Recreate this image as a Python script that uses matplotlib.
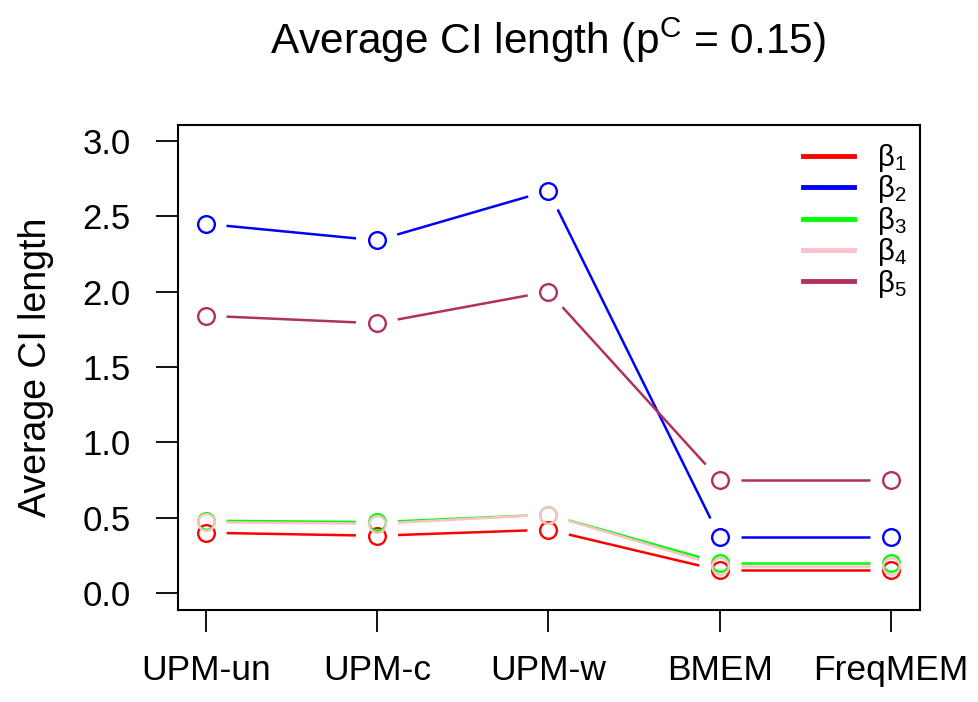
import matplotlib
matplotlib.use("Agg")
import matplotlib.pyplot as plt
from matplotlib.lines import Line2D
import numpy as np

plt.rcParams['font.family'] = ['Liberation Sans', 'DejaVu Sans']
plt.rcParams['mathtext.fontset'] = 'custom'
plt.rcParams['mathtext.rm'] = 'Liberation Sans'
plt.rcParams['mathtext.it'] = 'Liberation Sans'

methods = ["UPM-un", "UPM-c", "UPM-w", "BMEM", "FreqMEM"]
beta1 = [0.40, 0.38, 0.42, 0.15, 0.15]
beta2 = [2.45, 2.34, 2.67, 0.37, 0.37]
beta3 = [0.48, 0.47, 0.52, 0.20, 0.20]
beta4 = [0.47, 0.46, 0.52, 0.18, 0.18]
beta5 = [1.84, 1.79, 2.00, 0.75, 0.75]
series = [beta1, beta2, beta3, beta4, beta5]
labels = [r"$\mathrm{β}_1$", r"$\mathrm{β}_2$", r"$\mathrm{β}_3$", r"$\mathrm{β}_4$", r"$\mathrm{β}_5$"]
colors = ["#FF0000", "#0000FF", "#00FF00", "#FFC0CB", "#B03060"]
yticks = [0.0, 0.5, 1.0, 1.5, 2.0, 2.5, 3.0]

fig = plt.figure(figsize=(9.79, 7.02), dpi=100)
ax = fig.add_axes([0.182, 0.131, 0.758, 0.691])
x = np.arange(1, len(methods) + 1)
ax.set_xlim(0.84, 5.17)
ax.set_ylim(-0.113, 3.106)

fig.canvas.draw()
gap = 21.0  # pixels
for vals, col in zip(series, colors):
    pts = ax.transData.transform(np.column_stack([x, vals]))
    for i in range(len(pts) - 1):
        p0, p1 = pts[i], pts[i + 1]
        d = p1 - p0
        L = np.hypot(*d)
        if L <= 2 * gap:
            continue
        u = d / L
        a = ax.transData.inverted().transform(p0 + u * gap)
        b = ax.transData.inverted().transform(p1 - u * gap)
        ax.plot([a[0], b[0]], [a[1], b[1]], color=col, lw=1.8, solid_capstyle='butt')
    ax.plot(x, vals, linestyle='none', marker='o', markersize=12,
            markerfacecolor='none', markeredgecolor=col, markeredgewidth=1.7)

ax.set_xticks(x)
ax.set_xticklabels(methods, fontsize=25.5)
ax.set_yticks(yticks)
ax.set_yticklabels([f"{v:.1f}" for v in yticks], fontsize=25)
ax.tick_params(axis='both', length=16, width=1.3, direction='out')
ax.tick_params(axis='x', pad=16)
ax.tick_params(axis='y', pad=18)
for s in ax.spines.values():
    s.set_linewidth(1.5)
ax.set_ylabel("Average CI length", fontsize=27, labelpad=21)
fig.suptitle(r"Average CI length (p$^{\mathrm{C}}$ = 0.15)", fontsize=30.5, x=0.56, y=0.978)

handles = [Line2D([0], [0], color=c, lw=3.5) for c in colors]
leg = ax.legend(handles, labels, loc='upper right', frameon=False, fontsize=21,
                handlelength=1.75, handletextpad=0.8, labelspacing=-0.02,
                borderpad=0.3, borderaxespad=0.15, bbox_to_anchor=(1.0, 0.992))

fig.savefig("out.png", dpi=100)
